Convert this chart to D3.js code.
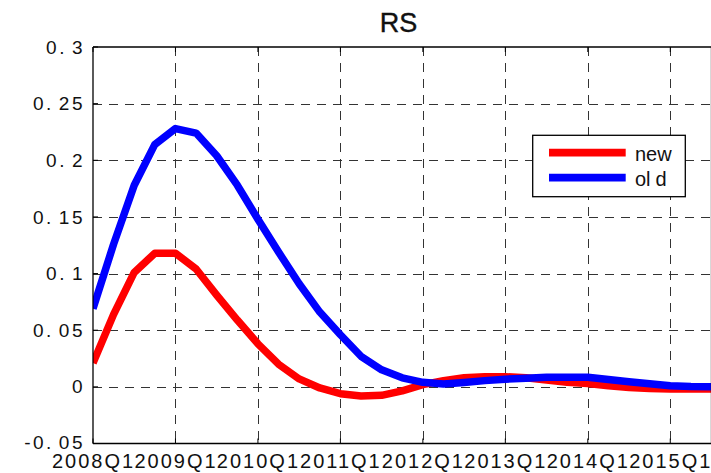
<!DOCTYPE html>
<html><head><meta charset="utf-8">
<script src="https://cdn.jsdelivr.net/npm/d3@7"></script>
<style>
body{margin:0;background:#fff;}
svg{display:block;}
text{font-family:"Liberation Sans",Arial,sans-serif;fill:#111;}
</style>
</head><body>
<svg id="chart" width="711" height="473"></svg>
<script>
const quarters = ["2008Q1","2008Q2","2008Q3","2008Q4","2009Q1","2009Q2","2009Q3","2009Q4",
  "2010Q1","2010Q2","2010Q3","2010Q4","2011Q1","2011Q2","2011Q3","2011Q4",
  "2012Q1","2012Q2","2012Q3","2012Q4","2013Q1","2013Q2","2013Q3","2013Q4",
  "2014Q1","2014Q2","2014Q3","2014Q4","2015Q1","2015Q2","2015Q3"];
const newValues = [0.021,0.064,0.101,0.118,0.118,0.104,0.081,0.059,0.038,0.020,0.007,-0.001,
  -0.006,-0.008,-0.0075,-0.0035,0.002,0.0055,0.008,0.009,0.009,0.008,0.006,0.004,
  0.003,0.001,-0.0005,-0.0015,-0.002,-0.002,-0.002];
const oldValues = [0.069,0.126,0.178,0.214,0.228,0.224,0.204,0.178,0.148,0.119,0.091,0.066,
  0.046,0.027,0.015,0.008,0.004,0.0025,0.0038,0.0055,0.0068,0.0077,0.0085,0.0085,
  0.0085,0.0065,0.0045,0.0028,0.001,0.0003,0.0002];
const xTickLabels = ["2008Q1","2009Q1","2010Q1","2011Q1","2012Q1","2013Q1","2014Q1","2015Q1"];
const yTicks = [-0.05,0,0.05,0.1,0.15,0.2,0.25,0.3];
const yTickLabels = ["-0.05","0","0.05","0.1","0.15","0.2","0.25","0.3"];
const seriesNames = ["new","old"];
const seriesColors = ["#ff0000","#0000ff"];
const title = "RS";

const L = 93, R = 711.5, T = 47, B = 443.5;
const svg = d3.select("#chart");
const x = d3.scaleLinear().domain([0, 30]).range([L, R]);
const y = d3.scaleLinear().domain([-0.05, 0.3]).range([B, T]);
const xTickIdx = xTickLabels.map(l => quarters.indexOf(l));

// grid
const grid = svg.append("g").attr("stroke","#333").attr("stroke-width",1)
  .attr("stroke-dasharray","9,7").attr("shape-rendering","crispEdges");
grid.selectAll(".hg").data(yTicks.filter(v => v > -0.05 && v < 0.3)).join("line")
  .attr("x1", L).attr("x2", R).attr("y1", d => Math.round(y(d))+0.5).attr("y2", d => Math.round(y(d))+0.5);
grid.selectAll(".vg").data(xTickIdx.filter(i => i > 0)).join("line")
  .attr("y1", T).attr("y2", B).attr("x1", d => Math.round(x(d))+0.5).attr("x2", d => Math.round(x(d))+0.5);

// lines
svg.append("clipPath").attr("id","clip").append("rect")
  .attr("x", L).attr("y", T).attr("width", R - L).attr("height", B - T);
const line = d3.line().x((d,i) => x(i)).y(d => y(d));
const plot = svg.append("g").attr("clip-path","url(#clip)");
[newValues, oldValues].forEach((vals, k) => {
  plot.append("path").datum(vals).attr("d", line).attr("fill","none")
    .attr("stroke", seriesColors[k]).attr("stroke-width", 7.5).attr("stroke-linejoin","round");
});

// axes
const ax = svg.append("g").attr("class","axes");
const yAxis = d3.axisLeft(y).tickValues(yTicks).tickFormat((d,i) => yTickLabels[i]).tickSize(0).tickPadding(8);
const gy = ax.append("g").attr("transform", `translate(${L},0)`).call(yAxis);
gy.select(".domain").remove();
gy.selectAll("text").each(function(d, i) {
  const s = yTickLabels[i];
  const t = d3.select(this).text(null).attr("font-size", 19).attr("letter-spacing", 2.5)
    .attr("font-family", '"Liberation Sans",Arial,sans-serif').attr("fill","#111");
  if (i === 0) t.attr("dy", "0.25em");
  const p = s.indexOf(".");
  if (p < 0) { t.text(s); }
  else {
    t.append("tspan").text(s.slice(0, p + 1));
    t.append("tspan").attr("dx", 5).text(s.slice(p + 1));
  }
});
const xAxis = d3.axisBottom(x).tickValues(xTickIdx).tickFormat((d,i) => xTickLabels[i]).tickSize(0);
const gx = ax.append("g").attr("transform", `translate(0,${B})`).call(xAxis);
gx.select(".domain").remove();
gx.selectAll("text").attr("y", 24).attr("dy", 0).attr("font-size", 20).attr("letter-spacing", 2)
  .attr("font-family", '"Liberation Sans",Arial,sans-serif').attr("fill","#111");

// box and ticks
const box = svg.append("g").attr("stroke","#000").attr("stroke-width",1.3).attr("fill","none");
box.append("line").attr("x1", L).attr("x2", L).attr("y1", T).attr("y2", B);
box.append("line").attr("x1", L).attr("x2", R).attr("y1", B).attr("y2", B);
box.append("line").attr("x1", L).attr("x2", R).attr("y1", T).attr("y2", T);
box.append("line").attr("x1", R).attr("x2", R).attr("y1", T).attr("y2", B);
box.selectAll(".ty").data(yTicks).join("line").attr("stroke-width",1)
  .attr("x1", L).attr("x2", L + 5).attr("y1", d => y(d)).attr("y2", d => y(d));
box.selectAll(".tb").data(xTickIdx).join("line").attr("stroke-width",1)
  .attr("x1", d => x(d)).attr("x2", d => x(d)).attr("y1", B).attr("y2", B - 5);
box.selectAll(".tt").data(xTickIdx).join("line").attr("stroke-width",1)
  .attr("x1", d => x(d)).attr("x2", d => x(d)).attr("y1", T).attr("y2", T + 5);

// title
svg.append("text").attr("x", 398.5).attr("y", 32).attr("text-anchor","middle")
  .attr("font-size", 27).attr("stroke","#111").attr("stroke-width",0.4).text(title);

// legend
const lg = svg.append("g");
lg.append("rect").attr("x", 532.7).attr("y", 135.3).attr("width", 152.6).attr("height", 61.4)
  .attr("fill","#fff").attr("stroke","#000").attr("stroke-width",1.3);
const rows = [152.7, 177.7];
seriesNames.forEach((n, k) => {
  lg.append("line").attr("x1", 549).attr("x2", 625.7).attr("y1", rows[k]).attr("y2", rows[k])
    .attr("stroke", seriesColors[k]).attr("stroke-width", 7.7);
  const t = lg.append("text").attr("x", 635).attr("y", rows[k] + 8).attr("font-size", 20);
  if (n === "old") {
    t.append("tspan").text("ol");
    t.append("tspan").attr("dx", 5).text("d");
  } else {
    t.text(n);
  }
});
</script>
</body></html>
